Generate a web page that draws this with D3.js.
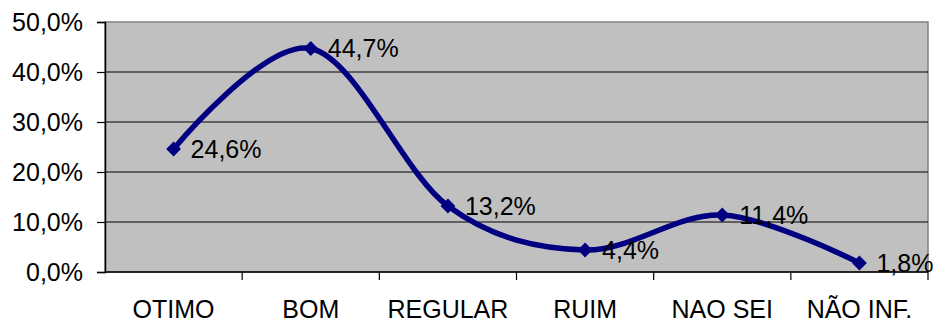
<!DOCTYPE html>
<html>
<head>
<meta charset="utf-8">
<script src="https://cdn.jsdelivr.net/npm/d3@7"></script>
<style>
  body { margin: 0; background: #fff; }
  text { font-family: "Liberation Sans", Arial, sans-serif; fill: #000; }
</style>
</head>
<body>
<svg id="chart"></svg>
<script>
// chart data
const categories = ["OTIMO", "BOM", "REGULAR", "RUIM", "NAO SEI", "NÃO INF."];
const values = [24.6, 44.7, 13.2, 4.4, 11.4, 1.8];
const yTicks = [0, 10, 20, 30, 40, 50];

const width = 941, height = 324;
const margin = { top: 22, right: 13, bottom: 52, left: 105 };
const innerW = width - margin.left - margin.right;
const innerH = height - margin.top - margin.bottom;
const fontSize = "25px";

const fmt = v => v.toFixed(1).replace(".", ",") + "%";

const svg = d3.select("#chart")
    .attr("width", width)
    .attr("height", height);

const x = d3.scaleBand()
    .domain(categories)
    .range([0, innerW]);

const y = d3.scaleLinear()
    .domain([0, 50])
    .range([innerH, 0]);

const g = svg.append("g")
    .attr("transform", `translate(${margin.left},${margin.top})`);

// plot area background
g.append("rect")
    .attr("width", innerW)
    .attr("height", innerH)
    .attr("fill", "#c0c0c0")
    .attr("stroke", "#808080")
    .attr("stroke-width", 1.5);

// gridlines
g.selectAll(".grid")
    .data(yTicks.filter(d => d > 0 && d < 50))
    .enter()
    .append("line")
    .attr("x1", 0)
    .attr("x2", innerW)
    .attr("y1", d => y(d))
    .attr("y2", d => y(d))
    .attr("stroke", "#000")
    .attr("stroke-width", 1.2);

// y axis
const yAxis = d3.axisLeft(y)
    .tickValues(yTicks)
    .tickSize(8)
    .tickPadding(14)
    .tickFormat(fmt);

g.append("g")
    .call(yAxis)
    .call(a => a.selectAll("line").attr("stroke", "#000").attr("stroke-width", 1.2))
    .call(a => a.select(".domain").attr("stroke", "#000").attr("stroke-width", 1.5))
    .call(a => a.selectAll("text")
        .style("font-family", "'Liberation Sans', Arial, sans-serif")
        .style("font-size", fontSize));

// x axis: ticks at band boundaries
const xAxisG = g.append("g")
    .attr("transform", `translate(0,${innerH})`);

xAxisG.append("line")
    .attr("x1", 0).attr("x2", innerW)
    .attr("stroke", "#000").attr("stroke-width", 1.5);

xAxisG.selectAll(".xtick")
    .data(categories)
    .enter()
    .append("line")
    .attr("x1", d => x(d) + x.bandwidth())
    .attr("x2", d => x(d) + x.bandwidth())
    .attr("y1", 0)
    .attr("y2", 8)
    .attr("stroke", "#000")
    .attr("stroke-width", 1.2);

xAxisG.selectAll(".xlabel")
    .data(categories)
    .enter()
    .append("text")
    .attr("x", d => x(d) + x.bandwidth() / 2)
    .attr("y", 46)
    .attr("text-anchor", "middle")
    .style("font-size", fontSize)
    .text(d => d);

// line
const points = categories.map((c, i) => ({ cat: c, value: values[i] }));

const line = d3.line()
    .x(d => x(d.cat) + x.bandwidth() / 2)
    .y(d => y(d.value))
    .curve(d3.curveCatmullRom.alpha(0));

g.append("path")
    .datum(points)
    .attr("d", line)
    .attr("fill", "none")
    .attr("stroke", "#000080")
    .attr("stroke-width", 5.5)
    .attr("stroke-linejoin", "round");

// diamond markers
g.selectAll(".marker")
    .data(points)
    .enter()
    .append("path")
    .attr("d", d3.symbol().type(d3.symbolDiamond2).size(140))
    .attr("transform", d => `translate(${x(d.cat) + x.bandwidth() / 2},${y(d.value)})`)
    .attr("fill", "#000080");

// data labels
g.selectAll(".label")
    .data(points)
    .enter()
    .append("text")
    .attr("x", d => x(d.cat) + x.bandwidth() / 2 + 17)
    .attr("y", d => y(d.value))
    .attr("dy", "0.35em")
    .style("font-size", fontSize)
    .text(d => fmt(d.value));
</script>
</body>
</html>
